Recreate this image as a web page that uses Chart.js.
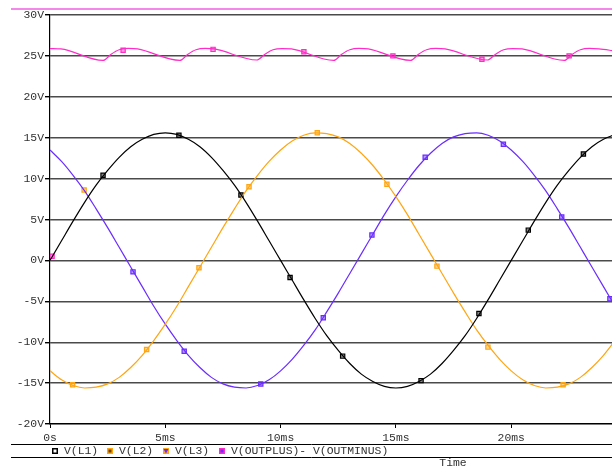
<!DOCTYPE html>
<html>
<head>
<meta charset="utf-8">
<title>V(L1) V(L2) V(L3)</title>
<script src="https://cdn.jsdelivr.net/npm/chart.js@4"></script>
<style>
  body { margin: 0; background: #fff; }
  canvas { display: block; }
</style>
</head>
<body>
<canvas id="scope" width="612" height="467"></canvas>
<script>
// time axis in ms, one sample every 0.5 ms
const timeMs = [0, 0.5, 1, 1.5, 2, 2.5, 3, 3.5, 4, 4.5, 5, 5.5, 6, 6.5, 7, 7.5, 8, 8.5, 9, 9.5,
  10, 10.5, 11, 11.5, 12, 12.5, 13, 13.5, 14, 14.5, 15, 15.5, 16, 16.5, 17, 17.5, 18, 18.5, 19, 19.5,
  20, 20.5, 21, 21.5, 22, 22.5, 23, 23.5, 24, 24.5];

const vL1 = [0, 2.4, 4.8, 7.1, 9.2, 11.0, 12.6, 13.9, 14.8, 15.4, 15.6, 15.4, 14.8, 13.9, 12.6, 11.0, 9.2, 7.1, 4.8, 2.4,
  0, -2.4, -4.8, -7.1, -9.2, -11.0, -12.6, -13.9, -14.8, -15.4, -15.6, -15.4, -14.8, -13.9, -12.6, -11.0, -9.2, -7.1, -4.8, -2.4,
  0, 2.4, 4.8, 7.1, 9.2, 11.0, 12.6, 13.9, 14.8, 15.4];
const vL2 = [-13.5, -14.6, -15.3, -15.6, -15.5, -15.1, -14.3, -13.1, -11.6, -9.8, -7.8, -5.6, -3.2, -0.8, 1.6, 4.0, 6.3, 8.5, 10.4, 12.1,
  13.5, 14.6, 15.3, 15.6, 15.5, 15.1, 14.3, 13.1, 11.6, 9.8, 7.8, 5.6, 3.2, 0.8, -1.6, -4.0, -6.3, -8.5, -10.4, -12.1,
  -13.5, -14.6, -15.3, -15.6, -15.5, -15.1, -14.3, -13.1, -11.6, -9.8];
const vL3 = [13.5, 12.1, 10.4, 8.5, 6.3, 4.0, 1.6, -0.8, -3.2, -5.6, -7.8, -9.8, -11.6, -13.1, -14.3, -15.1, -15.5, -15.6, -15.3, -14.6,
  -13.5, -12.1, -10.4, -8.5, -6.3, -4.0, -1.6, 0.8, 3.2, 5.6, 7.8, 9.8, 11.6, 13.1, 14.3, 15.1, 15.5, 15.6, 15.3, 14.6,
  13.5, 12.1, 10.4, 8.5, 6.3, 4.0, 1.6, -0.8, -3.2, -5.6];

// V(OUTPLUS)- V(OUTMINUS): ripple read at its corners
const outTime = [0, 0.47, 2.3, 2.65, 3.0, 3.4, 3.8, 5.63, 5.98, 6.33, 6.73, 7.13, 8.97, 9.32, 9.67, 10.07, 10.47,
  12.3, 12.65, 13.0, 13.4, 13.8, 15.63, 15.98, 16.33, 16.73, 17.13, 18.97, 19.32, 19.67, 20.07, 20.47,
  22.3, 22.65, 23.0, 23.4, 23.8, 24.5];
const outVolts = [25.9, 25.85, 24.45, 25.2, 25.75, 25.92, 25.85, 24.45, 25.2, 25.75, 25.92, 25.85, 24.5, 25.2, 25.75, 25.9, 25.85,
  24.45, 25.2, 25.75, 25.92, 25.85, 24.45, 25.2, 25.75, 25.92, 25.85, 24.5, 25.2, 25.75, 25.9, 25.85,
  24.45, 25.2, 25.75, 25.92, 25.85, 25.6];

// trace markers
const l1MarkT = [0.09, 2.30, 5.59, 8.28, 10.41, 12.69, 16.09, 18.60, 20.74, 23.13];
const l1MarkV = [0.5, 10.4, 15.3, 8.0, -2.1, -11.7, -14.7, -6.5, 3.7, 13.0];
const l2MarkT = [0.98, 4.19, 6.46, 8.63, 11.59, 14.61, 16.78, 18.99, 22.25];
const l2MarkV = [-15.2, -10.9, -0.9, 9.0, 15.6, 9.3, -0.7, -10.6, -15.2];
const l3MarkT = [1.48, 3.60, 5.82, 9.14, 11.85, 13.96, 16.27, 19.66, 22.19, 24.28];
const l3MarkV = [8.6, -1.4, -11.1, -15.1, -7.0, 3.1, 12.6, 14.2, 5.3, -4.7];
const outMarkT = [3.17, 7.07, 11.01, 14.87, 18.73, 22.51];
const outMarkV = [25.7, 25.8, 25.5, 25.0, 24.6, 25.0];

const xTicks = [0, 5, 10, 15, 20];
const legendNames = ['V(L1)', 'V(L2)', 'V(L3)', 'V(OUTPLUS)- V(OUTMINUS)'];

const BLACK = '#000000';
const ORANGE = '#ffa510';
const PURPLE = '#6a2cff';
const MAGENTA = '#ff2cc8';
const MONO = '"Liberation Mono", "DejaVu Sans Mono", monospace';

const pts = (xs, ys) => xs.map((x, i) => ({ x, y: ys[i] }));

function trace(label, xs, ys, color) {
  return {
    label, data: pts(xs, ys), borderColor: color, borderWidth: 1.2,
    pointRadius: 0, cubicInterpolationMode: 'monotone', fill: false
  };
}

function markers(xs, ys, color, firstColor) {
  return {
    data: pts(xs, ys), showLine: false, pointStyle: 'rect', pointRadius: 3,
    pointBorderWidth: 1.2,
    pointBorderColor: c => (c.dataIndex === 0 && firstColor) ? firstColor : color,
    pointBackgroundColor: c => ((c.dataIndex === 0 && firstColor) ? firstColor : color) + '77'
  };
}

const frame = {
  id: 'frame',
  afterDraw(chart) {
    const c = chart.ctx;
    c.save();
    c.strokeStyle = '#f060e0';
    c.lineWidth = 1.5;
    c.beginPath(); c.moveTo(11, 9); c.lineTo(612, 9); c.stroke();

    c.strokeStyle = '#000';
    c.lineWidth = 1;
    c.beginPath();
    c.moveTo(11, 444.5); c.lineTo(612, 444.5);
    c.moveTo(11, 457.5); c.lineTo(612, 457.5);
    c.stroke();

    const symX = [55, 110, 166, 222];
    const symCol = [BLACK, ORANGE, ORANGE, MAGENTA];
    const innerCol = ['#ffffff', '#704000', PURPLE, PURPLE];
    c.font = '11.4px ' + MONO;
    c.textBaseline = 'middle';
    legendNames.forEach((name, i) => {
      const x = symX[i], y = 451;
      c.fillStyle = symCol[i];
      c.fillRect(x - 3, y - 3, 6, 6);
      c.fillStyle = innerCol[i];
      if (i === 2) {
        c.beginPath(); c.moveTo(x - 2.5, y - 2); c.lineTo(x + 2.5, y - 2); c.lineTo(x, y + 2.5); c.fill();
      } else {
        c.fillRect(x - 1.5, y - 1.5, 3, 3);
      }
      c.fillStyle = '#333';
      c.textAlign = 'left';
      c.fillText(name, x + 9, y);
    });
    c.textAlign = 'center';
    c.fillText('Time', 453, 462.5);
    c.restore();
  }
};

new Chart(document.getElementById('scope'), {
  type: 'line',
  data: {
    datasets: [
      trace(legendNames[0], timeMs, vL1, BLACK),
      trace(legendNames[1], timeMs, vL2, ORANGE),
      trace(legendNames[2], timeMs, vL3, PURPLE),
      trace(legendNames[3], outTime, outVolts, MAGENTA),
      markers(l1MarkT, l1MarkV, BLACK, MAGENTA),
      markers(l2MarkT, l2MarkV, ORANGE),
      markers(l3MarkT, l3MarkV, PURPLE, ORANGE),
      markers(outMarkT, outMarkV, MAGENTA)
    ]
  },
  options: {
    responsive: false,
    animation: false,
    layout: { autoPadding: false, padding: { top: 15, right: 0, bottom: 0, left: 0 } },
    plugins: { legend: { display: false }, tooltip: { enabled: false } },
    scales: {
      x: {
        type: 'linear', min: 0, max: 24.37,
        afterBuildTicks: s => { s.ticks = xTicks.map(v => ({ value: v })); },
        afterFit: s => { s.height = 43; },
        grid: { drawOnChartArea: false, tickLength: 4, tickColor: '#000' },
        border: { color: '#000', width: 1.2 },
        ticks: {
          padding: 3, color: '#333', maxRotation: 0,
          font: { family: MONO, size: 11.4 },
          callback: v => v === 0 ? '0s' : v + 'ms'
        }
      },
      y: {
        min: -20, max: 30,
        afterFit: s => { s.width = 50; },
        grid: { color: '#4a4a4a', lineWidth: 1.4, tickLength: 5, tickColor: '#000' },
        border: { color: '#000', width: 1.2 },
        ticks: {
          stepSize: 5, padding: 1, color: '#333',
          font: { family: MONO, size: 11.4 },
          callback: v => v + 'V'
        }
      }
    }
  },
  plugins: [frame]
});
</script>
</body>
</html>
